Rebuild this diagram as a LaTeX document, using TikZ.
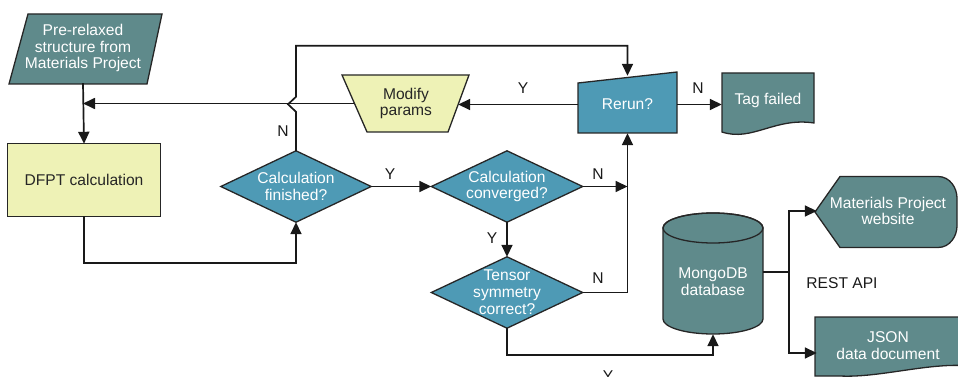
\documentclass[tikz,border=0pt]{standalone}
\usepackage{fontspec}
\setmainfont{Liberation Sans}
\usetikzlibrary{arrows.meta,backgrounds,calc}
\definecolor{tealA}{HTML}{5F8A8B}
\definecolor{blueA}{HTML}{4E9AB5}
\definecolor{yelA}{HTML}{EEF2B6}
\begin{document}
\begin{tikzpicture}[x=1pt,y=-1pt,
  txt/.style={font=\fontsize{15.6}{16.8}\selectfont, align=center, inner sep=0pt},
  wtxt/.style={txt, text=white},
  btxt/.style={txt, text=black!85},
  shp/.style={draw=black!85, line width=1.3pt, line join=miter},
  conn/.style={line width=1.7pt, draw=black!90},
  arr/.style={conn, -{Triangle[length=12pt,width=11pt]}},
  lbl/.style={font=\fontsize{15.6}{17}\selectfont, inner sep=0pt, text=black!90}
]
\useasboundingbox (0,0) rectangle (958,377);

% nodes (text)
\node[wtxt, minimum width=138pt, minimum height=70pt] (pre) at (83,48) {Pre-relaxed\\structure from\\Materials Project};
\node[btxt, minimum width=152pt, minimum height=72pt] (dfpt) at (84,180) {DFPT calculation};
\node[wtxt, minimum width=150pt, minimum height=71pt] (fin) at (296,186.5) {Calculation\\finished?};
\node[wtxt, minimum width=151pt, minimum height=71pt] (conv) at (507,186.5) {Calculation\\converged?};
\node[wtxt, minimum width=151pt, minimum height=71pt] (tens) at (507,292.5) {Tensor\\symmetry\\correct?};
\node[btxt, minimum width=104pt, minimum height=57pt] (mod) at (406,103.5) {Modify\\params};
\node[wtxt, minimum width=99pt, minimum height=57pt] (rerun) at (627.5,104.5) {Rerun?};
\node[wtxt, minimum width=92pt, minimum height=54pt] (tag) at (768,100) {Tag failed};
\node[wtxt, minimum width=100pt, minimum height=104pt] (mongo) at (713,282) {MongoDB\\database};
\node[wtxt, minimum width=142pt, minimum height=71pt] (web) at (888,211) {Materials Project\\website};
\node[wtxt, minimum width=142pt, minimum height=58pt] (json) at (888,346) {JSON\\data document};
\node[lbl] (rest) at (842,283) {REST API};

% shapes
\begin{scope}[on background layer]
  \draw[shp, fill=tealA] (28,14) -- (162,14) -- (147,84) -- (9,84) -- cycle;
  \draw[shp, fill=yelA] (dfpt.north west) rectangle (dfpt.south east);
  \foreach \n in {fin,conv,tens}
    \draw[shp, fill=blueA] (\n.west) -- (\n.north) -- (\n.east) -- (\n.south) -- cycle;
  \draw[shp, fill=yelA] (342,75) -- (469,75) -- (448,132) -- (367,132) -- cycle;
  \draw[shp, fill=blueA] (578,83) -- (677,72) -- (677,133) -- (578,133) -- cycle;
  \draw[shp, fill=tealA] (722,73) -- (814,73) -- (814,123)
     .. controls (775,117) and (752,142) .. (722,132) -- cycle;
  % cylinder
  \draw[shp, fill=tealA] (663,228) -- (663,319)
     arc[start angle=180, end angle=0, x radius=50, y radius=15]
     -- (763,228)
     arc[start angle=0, end angle=-180, x radius=50, y radius=15] -- cycle;
  \draw[shp] (713,228) ellipse[x radius=50, y radius=15];
  % display shape
  \draw[shp, fill=tealA] (815,212) -- (840,176.5) -- (938,176.5)
     .. controls (950,176.5) and (957,188) .. (957,198) -- (957,226)
     .. controls (957,236) and (950,247.5) .. (938,247.5) -- (840,247.5) -- cycle;
  % document
  \draw[shp, fill=tealA] (815,317) -- (970,317) -- (970,366)
     .. controls (930,362) and (880,378) .. (840,376) -- (815,376) -- cycle;
\end{scope}

% connectors
\draw[arr] (pre.south) -- (dfpt.north);
\draw[arr] (mod.west) -- (mod.west -| pre.south);
\draw[arr] (dfpt.south) -- ++(0,47) -| (fin.south);
\draw[arr] (fin.north) -- ++(0,-39) -- ++(-8,-7.5) -- ++(8,-7.5) -- ++(0,-51) -| (rerun.north);
\draw[arr] (rerun.west) -- (rerun.west -| mod.east);
\draw[arr] (rerun.east) -- (rerun.east -| tag.west);
\draw[arr] (fin.east) -- (conv.west);
\draw[arr] (conv.east) -- (conv.east -| rerun.south);
\draw[arr] (conv.south) -- (tens.north);
\draw[arr] (tens.east) -| (rerun.south);
\draw[arr] (tens.south) -- ++(0,27) -| (mongo.south);
\draw[conn] ([yshift=10pt]mongo.east) -- ++(26,0) coordinate (split);
\draw[arr] (split) |- (web.west);
\draw[arr] (split) |- ([yshift=-7pt]json.west);

% labels
\node[lbl] (lN1) at (283,131) {N};
\node[lbl] (lY1) at (523,88) {Y};
\node[lbl] (lN2) at (698,88) {N};
\node[lbl] (lY2) at (390,174) {Y};
\node[lbl] (lN3) at (598,174) {N};
\node[lbl] (lY3) at (492,238) {Y};
\node[lbl] (lN4) at (598,278) {N};
\node[lbl] (lY4) at (608,376) {Y};
\end{tikzpicture}
\end{document}
